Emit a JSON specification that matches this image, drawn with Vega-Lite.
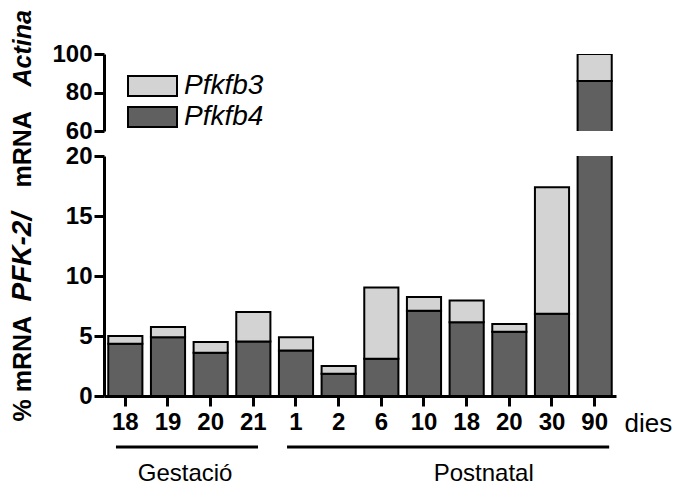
{
  "$schema": "https://vega.github.io/schema/vega-lite/v6.json",
  "background": "white",
  "padding": {"left": 8, "top": 9, "right": 0, "bottom": 0},
  "spacing": 25,
  "bounds": "flush",
  "config": {
    "view": {"stroke": null},
    "font": "Liberation Sans",
    "axis": {
      "domainColor": "black", "domainWidth": 3,
      "tickColor": "black", "tickWidth": 3, "tickSize": 10,
      "labelColor": "black", "labelFont": "Liberation Sans", "labelFontSize": 24, "labelFontWeight": "bold",
      "grid": false,
      "titleColor": "black", "titleFont": "Liberation Sans", "titleFontSize": 25, "titleFontWeight": "bold"
    }
  },
  "datasets": {
    "expr": [
      {"dia": "G18", "gen": "Pfkfb4", "valor": 4.35}, {"dia": "G18", "gen": "Pfkfb3", "valor": 0.65},
      {"dia": "G19", "gen": "Pfkfb4", "valor": 4.9}, {"dia": "G19", "gen": "Pfkfb3", "valor": 0.85},
      {"dia": "G20", "gen": "Pfkfb4", "valor": 3.6}, {"dia": "G20", "gen": "Pfkfb3", "valor": 0.9},
      {"dia": "G21", "gen": "Pfkfb4", "valor": 4.55}, {"dia": "G21", "gen": "Pfkfb3", "valor": 2.45},
      {"dia": "P1", "gen": "Pfkfb4", "valor": 3.8}, {"dia": "P1", "gen": "Pfkfb3", "valor": 1.1},
      {"dia": "P2", "gen": "Pfkfb4", "valor": 1.85}, {"dia": "P2", "gen": "Pfkfb3", "valor": 0.65},
      {"dia": "P6", "gen": "Pfkfb4", "valor": 3.1}, {"dia": "P6", "gen": "Pfkfb3", "valor": 5.95},
      {"dia": "P10", "gen": "Pfkfb4", "valor": 7.1}, {"dia": "P10", "gen": "Pfkfb3", "valor": 1.15},
      {"dia": "P18", "gen": "Pfkfb4", "valor": 6.15}, {"dia": "P18", "gen": "Pfkfb3", "valor": 1.8},
      {"dia": "P20", "gen": "Pfkfb4", "valor": 5.35}, {"dia": "P20", "gen": "Pfkfb3", "valor": 0.65},
      {"dia": "P30", "gen": "Pfkfb4", "valor": 6.85}, {"dia": "P30", "gen": "Pfkfb3", "valor": 10.55},
      {"dia": "P90", "gen": "Pfkfb4", "valor": 86}, {"dia": "P90", "gen": "Pfkfb3", "valor": 14}
    ],
    "grups": [
      {"grup": "Gestació", "inici": 0.28, "fi": 3.61, "centre": 1.9},
      {"grup": "Postnatal", "inici": 4.29, "fi": 11.84, "centre": 8.9}
    ]
  },
  "resolve": {"scale": {"x": "independent", "y": "independent"}, "legend": {"color": "independent"}},
  "vconcat": [
    {
      "width": 512, "height": 77,
      "data": {"name": "expr"},
      "mark": {"type": "bar", "clip": true, "stroke": "black", "strokeWidth": 2},
      "encoding": {
        "x": {"field": "dia", "type": "nominal",
          "sort": ["G18","G19","G20","G21","P1","P2","P6","P10","P18","P20","P30","P90"],
          "scale": {"domain": ["G18","G19","G20","G21","P1","P2","P6","P10","P18","P20","P30","P90"], "paddingInner": 0.2, "paddingOuter": 0.1},
          "axis": {"labels": false, "ticks": false, "domain": false, "title": "mRNA", "titleFontSize": 25,
            "titleAngle": -90, "titleAlign": "left", "titleBaseline": "alphabetic", "titleX": -74, "titleY": 56}},
        "y": {"field": "valor", "type": "quantitative", "stack": "zero",
          "scale": {"domain": [60, 100], "nice": false, "zero": false},
          "axis": {"values": [60, 80, 100], "labelPadding": 2, "title": "PFK-2/", "titleFontStyle": "italic", "titleFontSize": 28,
            "titleAngle": -90, "titleAlign": "left", "titleBaseline": "alphabetic", "titleX": -74, "titleY": 247}},
        "color": {"field": "gen", "type": "nominal",
          "scale": {"domain": ["Pfkfb3", "Pfkfb4"], "range": ["#d3d3d3", "#606060"]},
          "legend": {"title": null, "orient": "none", "legendX": 34.5, "legendY": 18, "padding": 0,
            "symbolType": "M-2.45,-1H2.45V1H-2.45Z", "symbolSize": 400,
            "symbolStrokeColor": "black", "symbolStrokeWidth": 2, "symbolOpacity": 1,
            "labelFont": "Liberation Sans", "labelFontSize": 28, "labelFontStyle": "italic", "labelColor": "black",
            "labelOffset": 17.5, "rowPadding": 3}},
        "order": {"field": "gen", "sort": "descending"}
      }
    },
    {
      "width": 512, "height": 240,
      "data": {"name": "expr"},
      "mark": {"type": "bar", "clip": true, "stroke": "black", "strokeWidth": 2},
      "encoding": {
        "x": {"field": "dia", "type": "nominal",
          "sort": ["G18","G19","G20","G21","P1","P2","P6","P10","P18","P20","P30","P90"],
          "scale": {"domain": ["G18","G19","G20","G21","P1","P2","P6","P10","P18","P20","P30","P90"], "paddingInner": 0.2, "paddingOuter": 0.1},
          "axis": {"labelExpr": "substring(datum.label, 1)", "labelAngle": 0, "labelPadding": 4,
            "title": "dies", "titleFontWeight": "normal", "titleFontSize": 26,
            "titleAlign": "left", "titleBaseline": "alphabetic", "titleX": 520, "titleY": 35}},
        "y": {"field": "valor", "type": "quantitative", "stack": "zero",
          "scale": {"domain": [0, 20], "nice": false},
          "axis": {"values": [0, 5, 10, 15, 20], "labelPadding": 2, "title": "% mRNA", "titleFontSize": 25,
            "titleAngle": -90, "titleAlign": "left", "titleBaseline": "alphabetic", "titleX": -74, "titleY": 265}},
        "color": {"field": "gen", "type": "nominal",
          "scale": {"domain": ["Pfkfb3", "Pfkfb4"], "range": ["#d3d3d3", "#606060"]},
          "legend": null},
        "order": {"field": "gen", "sort": "descending"}
      }
    },
    {
      "width": 512, "height": 60,
      "data": {"name": "grups"},
      "layer": [
        {
          "mark": {"type": "rule", "strokeWidth": 3, "color": "black"},
          "encoding": {
            "x": {"field": "inici", "type": "quantitative", "scale": {"domain": [0, 12], "nice": false, "zero": false}, "axis": null},
            "x2": {"field": "fi"},
            "y": {"datum": 0.567, "type": "quantitative", "scale": {"domain": [0, 1], "nice": false},
              "axis": {"labels": false, "ticks": false, "domain": false, "title": "Actina", "titleFontStyle": "italic", "titleFontSize": 25,
                "titleAngle": -90, "titleAlign": "left", "titleBaseline": "alphabetic", "titleX": -74, "titleY": -335}}
          }
        },
        {
          "mark": {"type": "text", "font": "Liberation Sans", "fontSize": 24, "baseline": "middle", "align": "center", "color": "black"},
          "encoding": {
            "x": {"field": "centre", "type": "quantitative"},
            "y": {"datum": 0.117, "type": "quantitative"},
            "text": {"field": "grup"}
          }
        }
      ]
    }
  ]
}
